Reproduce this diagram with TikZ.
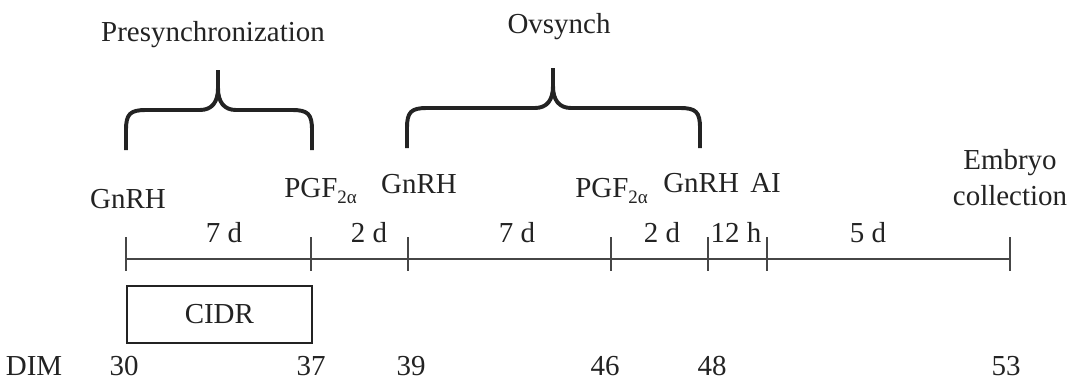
\documentclass[tikz,border=0pt]{standalone}
\usepackage{fontspec}
\setmainfont{Liberation Serif}
\definecolor{ink}{RGB}{35,35,35}
\definecolor{rule}{RGB}{70,70,70}
\newcommand\twoalpha{\raisebox{-0.22em}{\fontsize{13.5}{14}\selectfont 2α}}
\begin{document}
\begin{tikzpicture}[x=0.025cm,y=-0.025cm,
  lbl/.style={inner sep=0pt, anchor=base, text=ink, font=\fontsize{20.6}{25}\selectfont},
  axis/.style={draw=rule, line width=1.6pt},
  tick/.style={draw=rule, line width=1.6pt},
  brace/.style={draw=ink, line width=2.8pt},
  box/.style={draw=ink, line width=1.2pt, inner sep=0pt, text=ink,
    font=\fontsize{20.6}{25}\selectfont}]
\useasboundingbox (0,0) rectangle (1070,383);

% protocol phases
\node[lbl] (presync) at (213,41) {Presynchronization};
\node[lbl] (ovs) at (559,33) {Ovsynch};

\draw[brace] (126,150) -- (126,130) .. controls (126,114) and (130,110) .. (146,110)
  -- (200,110) .. controls (212,110) and (218,102) .. (218,88) -- (218,70);
\draw[brace] (218,88) .. controls (218,102) and (224,110) .. (236,110)
  -- (292,110) .. controls (308,110) and (312,114) .. (312,130) -- (312,150);

\draw[brace] (407,148) -- (407,128) .. controls (407,112) and (411,108) .. (427,108)
  -- (535,108) .. controls (547,108) and (553,100) .. (553,86) -- (553,68);
\draw[brace] (553,86) .. controls (553,100) and (559,108) .. (571,108)
  -- (680,108) .. controls (696,108) and (700,112) .. (700,128) -- (700,148);

% treatments
\node[lbl] (g1) at (128,208) {GnRH};
\node[lbl, anchor=base west] (p1) at (284,197) {PGF\twoalpha};
\node[lbl] (g2) at (419,193) {GnRH};
\node[lbl, anchor=base west] (p2) at (575,197) {PGF\twoalpha};
\node[lbl, anchor=base west] (g3) at (663,192) {GnRH};
\node[lbl, anchor=base west] (ai) at (750,192) {AI};
\node[lbl, align=center] (emb) at (1010,205) {Embryo\\collection};

% time line
\coordinate (t1) at (126,259);
\coordinate (t2) at (311,259);
\coordinate (t3) at (408,259);
\coordinate (t4) at (611,259);
\coordinate (t5) at (708,259);
\coordinate (t6) at (767,259);
\coordinate (t7) at (1010,259);
\draw[axis] (t1) -- (t7);
\foreach \t in {t1,t2,t3,t4,t5,t6,t7}
  \draw[tick] (\t) ++(0,-22) -- ++(0,34);

% intervals
\node[lbl] (d1) at (224,242) {7 d};
\node[lbl] (d2) at (369,242) {2 d};
\node[lbl] (d3) at (517,242) {7 d};
\node[lbl] (d4) at (662,242) {2 d};
\node[lbl] (d5) at (736,242) {12 h};
\node[lbl] (d6) at (868,242) {5 d};

% intravaginal device
\node[box, anchor=north west, minimum width=4.625cm, minimum height=1.425cm]
  (cidr) at (126,285) {CIDR};

% days in milk
\node[lbl] (dim) at (34,375) {DIM};
\node[lbl] (n30) at (124,375) {30};
\node[lbl] (n37) at (311,375) {37};
\node[lbl] (n39) at (411,375) {39};
\node[lbl] (n46) at (605,375) {46};
\node[lbl] (n48) at (712,375) {48};
\node[lbl] (n53) at (1006,375) {53};
\end{tikzpicture}
\end{document}
